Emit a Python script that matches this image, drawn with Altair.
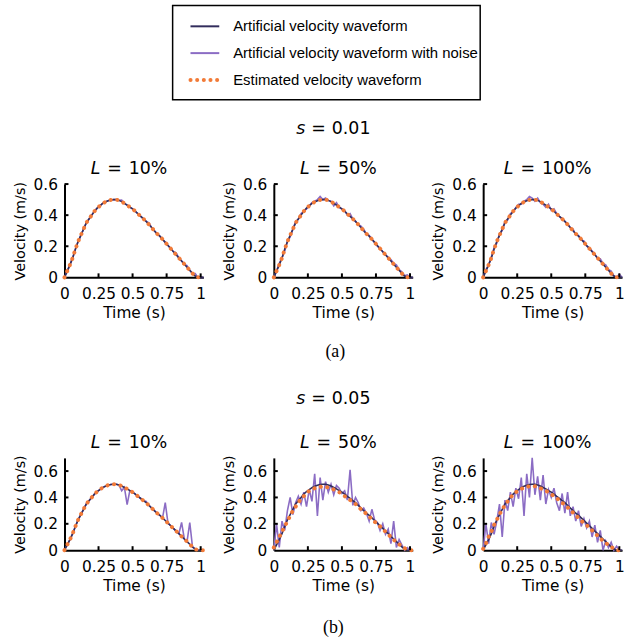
import altair as alt
import pandas as pd

# ---------------- data ----------------
time = [0.00, 0.02, 0.04, 0.06, 0.08, 0.10, 0.12, 0.14, 0.16, 0.18,
        0.20, 0.22, 0.24, 0.26, 0.28, 0.30, 0.32, 0.34, 0.36, 0.38,
        0.40, 0.42, 0.44, 0.46, 0.48, 0.50, 0.52, 0.54, 0.56, 0.58,
        0.60, 0.62, 0.64, 0.66, 0.68, 0.70, 0.72, 0.74, 0.76, 0.78,
        0.80, 0.82, 0.84, 0.86, 0.88, 0.90, 0.92, 0.94, 0.96, 0.98,
        1.00, 1.02]

# artificial (clean) velocity waveform
base = [0.00, 0.04, 0.08, 0.125, 0.18, 0.23, 0.27, 0.31, 0.35, 0.375,
        0.40, 0.425, 0.445, 0.46, 0.475, 0.485, 0.493, 0.498, 0.50, 0.50,
        0.495, 0.487, 0.476, 0.465, 0.452, 0.44, 0.425, 0.408, 0.392, 0.376,
        0.36, 0.34, 0.32, 0.30, 0.28, 0.265, 0.245, 0.225, 0.205, 0.185,
        0.165, 0.145, 0.125, 0.105, 0.085, 0.065, 0.045, 0.025, 0.008, 0.0,
        0.0, 0.0]

# estimated waveform where it overlays the clean one
est_clean = [0.00, 0.04, 0.08, 0.125, 0.18, 0.23, 0.27, 0.31, 0.35, 0.375,
             0.40, 0.425, 0.445, 0.46, 0.475, 0.485, 0.493, 0.498, 0.50, 0.50,
             0.495, 0.487, 0.476, 0.465, 0.452, 0.44, 0.425, 0.408, 0.392, 0.376,
             0.36, 0.34, 0.32, 0.30, 0.28, 0.265, 0.245, 0.225, 0.205, 0.185,
             0.165, 0.145, 0.125, 0.105, 0.085, 0.065, 0.045, 0.025, 0.008, 0.0,
             0.0, 0.0]

# noisy waveforms, s = 0.01
noisy_s01_L10 = [0.00, 0.04, 0.08, 0.125, 0.18, 0.23, 0.27, 0.31, 0.35, 0.375,
                 0.40, 0.425, 0.445, 0.46, 0.475, 0.485, 0.493, 0.498, 0.50, 0.50,
                 0.495, 0.497, 0.476, 0.465, 0.452, 0.44, 0.425, 0.408, 0.392, 0.376,
                 0.36, 0.35, 0.32, 0.30, 0.28, 0.265, 0.245, 0.225, 0.205, 0.185,
                 0.165, 0.158, 0.125, 0.105, 0.085, 0.075, 0.045, 0.025, 0.025, 0.0,
                 0.0, 0.0]
noisy_s01_L50 = [0.00, 0.04, 0.09, 0.125, 0.17, 0.23, 0.26, 0.31, 0.36, 0.375,
                 0.41, 0.425, 0.44, 0.46, 0.48, 0.49, 0.50, 0.52, 0.50, 0.51,
                 0.495, 0.49, 0.46, 0.48, 0.45, 0.44, 0.43, 0.40, 0.41, 0.376,
                 0.36, 0.34, 0.33, 0.31, 0.28, 0.27, 0.245, 0.225, 0.20, 0.185,
                 0.165, 0.145, 0.13, 0.115, 0.09, 0.08, 0.05, 0.035, 0.01, 0.015,
                 0.0, 0.0]
noisy_s01_L100 = [0.00, 0.05, 0.08, 0.13, 0.19, 0.22, 0.28, 0.30, 0.36, 0.37,
                  0.41, 0.42, 0.45, 0.47, 0.47, 0.49, 0.50, 0.52, 0.51, 0.49,
                  0.51, 0.48, 0.47, 0.45, 0.47, 0.43, 0.44, 0.41, 0.39, 0.38,
                  0.36, 0.345, 0.32, 0.31, 0.275, 0.27, 0.24, 0.235, 0.20, 0.19,
                  0.17, 0.15, 0.12, 0.12, 0.09, 0.08, 0.05, 0.04, 0.01, 0.0,
                  0.02, 0.0]

# noisy waveforms, s = 0.05
noisy_s05_L10 = [0.00, 0.04, 0.08, 0.125, 0.18, 0.23, 0.27, 0.31, 0.35, 0.375,
                 0.40, 0.425, 0.445, 0.46, 0.475, 0.485, 0.493, 0.498, 0.50, 0.50,
                 0.495, 0.45, 0.476, 0.345, 0.452, 0.44, 0.425, 0.408, 0.392, 0.376,
                 0.37, 0.34, 0.32, 0.30, 0.28, 0.265, 0.245, 0.36, 0.205, 0.185,
                 0.165, 0.145, 0.125, 0.21, 0.085, 0.065, 0.21, 0.025, 0.008, 0.0,
                 0.0, 0.0]
noisy_s05_L50 = [0.00, 0.20, 0.02, 0.22, 0.15, 0.30, 0.40, 0.27, 0.36, 0.41,
                 0.35, 0.44, 0.33, 0.46, 0.37, 0.58, 0.26, 0.55, 0.38, 0.52,
                 0.44, 0.50, 0.42, 0.49, 0.47, 0.43, 0.45, 0.38, 0.61, 0.34,
                 0.40, 0.36, 0.30, 0.32, 0.28, 0.22, 0.31, 0.23, 0.21, 0.15,
                 0.20, 0.12, 0.16, 0.05, 0.22, 0.02, 0.08, 0.04, 0.00, 0.02,
                 0.00, 0.00]
noisy_s05_L100 = [0.00, 0.20, 0.05, 0.21, 0.12, 0.22, 0.35, 0.10, 0.38, 0.30,
                  0.44, 0.33, 0.47, 0.39, 0.55, 0.26, 0.58, 0.40, 0.70, 0.42,
                  0.56, 0.38, 0.57, 0.35, 0.46, 0.40, 0.47, 0.36, 0.30, 0.43,
                  0.28, 0.44, 0.26, 0.33, 0.22, 0.30, 0.18, 0.24, 0.17, 0.22,
                  0.10, 0.19, 0.06, 0.15, 0.00, 0.07, 0.02, 0.06, 0.00, 0.03,
                  0.00, 0.00]

# estimated waveforms, s = 0.05
est_s05_L50 = [0.02, 0.06, 0.10, 0.14, 0.18, 0.22, 0.26, 0.30, 0.33, 0.36,
               0.39, 0.41, 0.43, 0.45, 0.46, 0.47, 0.48, 0.48, 0.485, 0.48,
               0.475, 0.47, 0.46, 0.45, 0.44, 0.425, 0.41, 0.395, 0.38, 0.365,
               0.35, 0.33, 0.31, 0.295, 0.275, 0.255, 0.235, 0.215, 0.20, 0.18,
               0.16, 0.14, 0.12, 0.10, 0.08, 0.06, 0.045, 0.03, 0.015, 0.005,
               0.0, 0.0]
est_s05_L100 = [0.01, 0.05, 0.10, 0.14, 0.19, 0.23, 0.27, 0.31, 0.34, 0.37,
                0.40, 0.42, 0.44, 0.455, 0.465, 0.475, 0.48, 0.485, 0.49, 0.485,
                0.48, 0.47, 0.46, 0.45, 0.44, 0.425, 0.41, 0.395, 0.375, 0.36,
                0.345, 0.325, 0.305, 0.285, 0.265, 0.245, 0.225, 0.205, 0.19, 0.17,
                0.15, 0.13, 0.11, 0.09, 0.07, 0.055, 0.04, 0.025, 0.01, 0.0,
                0.0, 0.0]

x_ticks = [0, 0.25, 0.5, 0.75, 1]
y_ticks = [0, 0.2, 0.4, 0.6]
x_inner_ticks = [0.25, 0.5, 0.75, 1]
y_inner_ticks = [0.2, 0.4, 0.6]

series_labels = ["Artificial velocity waveform",
                 "Artificial velocity waveform with noise",
                 "Estimated velocity waveform"]
panel_levels = ["10%", "50%", "100%"]
section_values = ["0.01", "0.05"]
captions = ["(a)", "(b)"]

# ---------------- styles ----------------
SANS = "DejaVu Sans"
LEG_FONT = "Liberation Sans"
SERIF = "Liberation Serif"
C_BASE = "#322d5c"
C_NOISE = "#8b6cc4"
C_EST = "#f27b38"
DOT = [0.1, 6.6]
DOT_W = 4.0
PW = 140  # panel plot width

# DejaVu Sans advance widths (em)
CW = {"L": 0.557, "s": 0.521, "=": 0.838, "%": 0.95, ".": 0.318}


def text_width(txt, size):
    return sum(CW.get(ch, 0.636) for ch in txt) * size


def one_text(txt, x, y, size, align="center", style="normal", font=SANS):
    return alt.Chart(pd.DataFrame({"txt": [txt]})).mark_text(
        align=align, baseline="middle", fontSize=size, fontStyle=style,
        font=font, color="black"
    ).encode(x=alt.value(x), y=alt.value(y), text="txt:N")


def math_title(letter, value, cx, cy, size=17.5, gap=7):
    wl = text_width(letter, size)
    wv = text_width(value, size)
    we = CW["="] * size
    xe = cx - (wv - wl) / 2
    return [
        one_text(letter, xe - we / 2 - gap, cy, size, "right", "italic"),
        one_text("=", xe, cy, size, "center"),
        one_text(value, xe + we / 2 + gap, cy, size, "left"),
    ]


def sample_line(color, y, width=2.0, dash=None):
    kw = dict(color=color, strokeWidth=width)
    if dash is not None:
        kw.update(strokeDash=dash, strokeCap="round")
    return alt.Chart(pd.DataFrame({"k": [0]})).mark_rule(**kw).encode(
        x=alt.value(-84), x2=alt.value(-55), y=alt.value(y))


def legend_marks():
    # legend drawn above the middle panel of the first row
    rows_y = [-159, -132, -105]
    box = alt.Chart(pd.DataFrame({"k": [0]})).mark_rect(
        fill=None, stroke="black", strokeWidth=1.5).encode(
        x=alt.value(-102), x2=alt.value(208), y=alt.value(-180), y2=alt.value(-85))
    marks = [box,
             sample_line(C_BASE, rows_y[0]),
             sample_line(C_NOISE, rows_y[1]),
             sample_line(C_EST, rows_y[2], DOT_W, DOT)]
    for lab, yy in zip(series_labels, rows_y):
        marks.append(one_text(lab, -41, yy, 15, "left", font=LEG_FONT))
    return marks


def xenc(field):
    return alt.X(f"{field}:Q", scale=alt.Scale(domain=[0, 1.02], nice=False, zero=False),
                 axis=alt.Axis(values=x_ticks, format=".2~f", title="Time (s)"))


def yenc(field, ymax):
    return alt.Y(f"{field}:Q", scale=alt.Scale(domain=[0, ymax], nice=False),
                 axis=alt.Axis(values=y_ticks, format=".1~f", title="Velocity (m/s)"))


def panel(noisy, est, ymax, height, level, extras):
    df = pd.DataFrame({"t": time, "base": base, "noisy": noisy, "est": est})
    noise = alt.Chart(df).mark_line(color=C_NOISE, strokeWidth=1.6).encode(
        x=xenc("t"), y=yenc("noisy", ymax))
    clean = alt.Chart(df).mark_line(color=C_BASE, strokeWidth=1.6).encode(
        x=xenc("t"), y=yenc("base", ymax))
    estim = alt.Chart(df).mark_line(color=C_EST, strokeWidth=DOT_W, strokeDash=DOT,
                                    strokeCap="round").encode(
        x=xenc("t"), y=yenc("est", ymax))
    xt = alt.Chart(pd.DataFrame({"v": x_inner_ticks})).mark_rule(
        color="black", strokeWidth=2).encode(
        x=xenc("v"), y=alt.value(height), y2=alt.value(height - 4))
    yt = alt.Chart(pd.DataFrame({"v": y_inner_ticks})).mark_rule(
        color="black", strokeWidth=2).encode(
        y=yenc("v", ymax), x=alt.value(0), x2=alt.value(4))
    layers = [noise, clean, estim, xt, yt] + math_title("L", level, 65, -15) + extras
    return alt.layer(*layers).properties(width=PW, height=height)


# ---------------- rows ----------------
row_a = alt.hconcat(
    panel(noisy_s01_L10, est_clean, 0.6, 94, panel_levels[0], []),
    panel(noisy_s01_L50, est_clean, 0.6, 94, panel_levels[1],
          legend_marks() + math_title("s", section_values[0], 60, -55, gap=6)),
    panel(noisy_s01_L100, est_clean, 0.6, 94, panel_levels[2], []),
    spacing=71, bounds="flush")

row_b = alt.hconcat(
    panel(noisy_s05_L10, est_clean, 0.7, 93, panel_levels[0], []),
    panel(noisy_s05_L50, est_s05_L50, 0.7, 93, panel_levels[1],
          [one_text(captions[0], 62, -107, 18, font=SERIF)]
          + math_title("s", section_values[1], 60, -59, gap=6)
          + [one_text(captions[1], 60, 171, 18, font=SERIF)]),
    panel(noisy_s05_L100, est_s05_L100, 0.7, 93, panel_levels[2], []),
    spacing=71, bounds="flush")

chart = alt.vconcat(row_a, row_b, spacing=22).properties(
    padding={"left": 12, "top": 2, "right": 0, "bottom": 0}
).configure_view(stroke=None).configure_axis(
    labelFont=SANS, titleFont=SANS, labelFontSize=15.5, titleFontSize=15.5,
    titleFontWeight="normal", labelColor="black", titleColor="black",
    domainColor="black", domainWidth=2, grid=False, ticks=False,
    labelPadding=7, labelFlush=False, labelOverlap=False
).configure_axisX(labelPadding=9, titlePadding=4).configure_axisY(
    titlePadding=6, titleFontSize=14.5)

chart.save("out.html", embed_options={"renderer": "svg", "actions": False})
